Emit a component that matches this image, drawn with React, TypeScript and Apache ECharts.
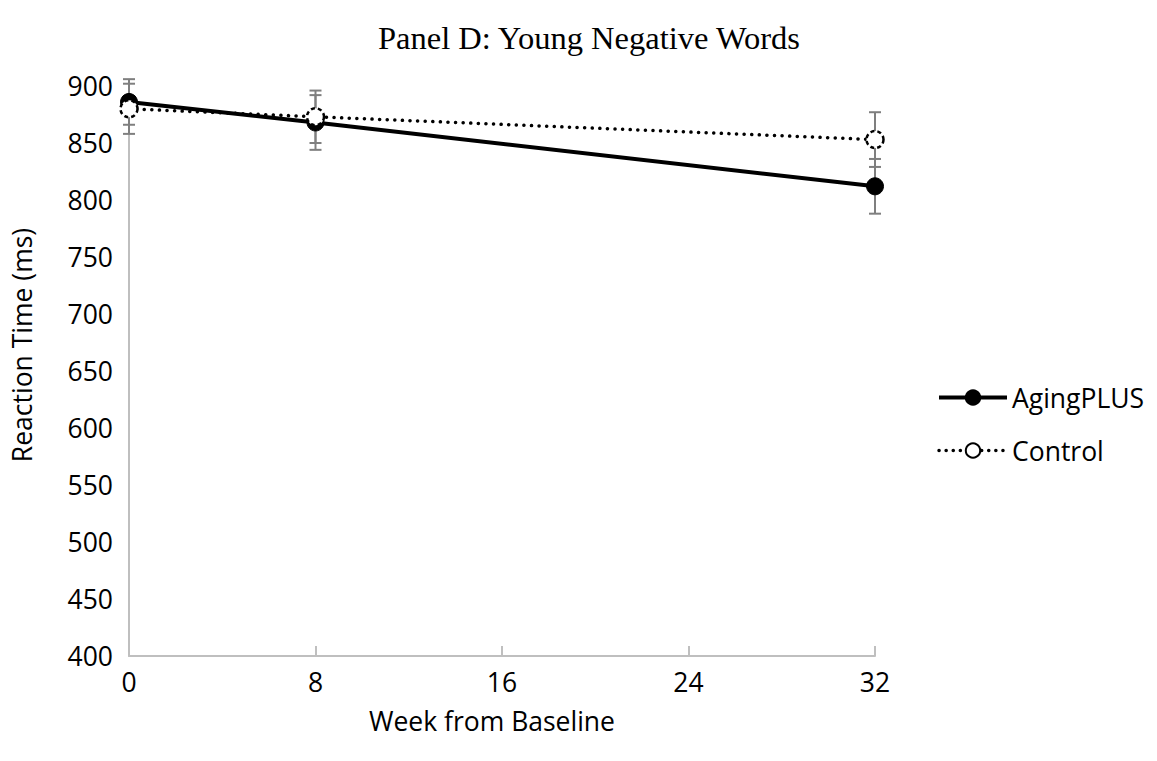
import React, { useEffect, useRef } from "react";
import * as echarts from "echarts";

const weeks = [0, 8, 32];
const agingPlus = [886, 868, 812];
const agingPlusErr = [20, 24, 24];
const control = [880, 873, 853];
const controlErr = [22, 23, 24];
const xTicks = [0, 8, 16, 24, 32];
const seriesNames = ["AgingPLUS", "Control"];

const FONT = "'Open Sans', 'Noto Sans', sans-serif";
const FS = 26.5;

export default function App() {
  const ref = useRef<HTMLDivElement>(null);
  useEffect(() => {
    if (!ref.current) return;
    const chart = echarts.init(ref.current, undefined, { renderer: "svg" });
    const errData: number[][] = [];
    weeks.forEach((w, i) => {
      errData.push([w, agingPlus[i] - agingPlusErr[i], agingPlus[i] + agingPlusErr[i]]);
      errData.push([w, control[i] - controlErr[i], control[i] + controlErr[i]]);
    });
    const errRender = (params: any, api: any) => {
      const x = api.value(0);
      const lo = api.coord([x, api.value(1)]);
      const hi = api.coord([x, api.value(2)]);
      const hw = 6;
      const style = { stroke: "#7f7f7f", lineWidth: 2 };
      return {
        type: "group",
        children: [
          { type: "line", shape: { x1: lo[0], y1: lo[1], x2: hi[0], y2: hi[1] }, style },
          { type: "line", shape: { x1: lo[0] - hw, y1: lo[1], x2: lo[0] + hw, y2: lo[1] }, style },
          { type: "line", shape: { x1: hi[0] - hw, y1: hi[1], x2: hi[0] + hw, y2: hi[1] }, style },
        ],
      };
    };
    chart.setOption({
      animation: false,
      backgroundColor: "#ffffff",
      title: {
        text: "Panel D: Young Negative Words",
        left: 584,
        top: 16,
        textAlign: "center",
        textStyle: {
          fontFamily: "'Liberation Serif', 'Times New Roman', serif",
          fontSize: 32.5,
          fontWeight: "normal",
          color: "#000",
        },
      },
      grid: { left: 129, right: 282, top: 86, bottom: 105 },
      legend: {
        data: [
          { name: seriesNames[0], lineStyle: { width: 4, type: "solid", color: "#000" } },
          { name: seriesNames[1], lineStyle: { width: 3.5, type: [0.1, 7], cap: "round", color: "#000" } },
        ],
        orient: "vertical",
        left: 932,
        top: 379,
        itemWidth: 68,
        itemHeight: 18,
        itemGap: 26,
        textStyle: { fontFamily: FONT, fontSize: FS, color: "#000" },
      },
      xAxis: {
        type: "value",
        min: 0,
        max: 32,
        interval: 8,
        axisLine: { lineStyle: { color: "#bfbfbf", width: 2 } },
        axisTick: { show: true, inside: true, length: 10, lineStyle: { color: "#bfbfbf", width: 2 } },
        axisLabel: {
          fontFamily: FONT,
          fontSize: FS,
          color: "#000",
          margin: 12,
          formatter: (v: number) => (xTicks.includes(v) ? String(v) : ""),
        },
        splitLine: { show: false },
      },
      yAxis: {
        type: "value",
        min: 400,
        max: 900,
        interval: 50,
        axisLine: { show: true, lineStyle: { color: "#bfbfbf", width: 2 } },
        axisTick: { show: false },
        axisLabel: { fontFamily: FONT, fontSize: FS, color: "#000", margin: 16 },
        splitLine: { show: false },
      },
      graphic: [
        {
          type: "text",
          x: 22,
          y: 345,
          rotation: Math.PI / 2,
          style: {
            text: "Reaction Time (ms)",
            fontFamily: FONT,
            fontSize: FS,
            fill: "#000",
            textAlign: "center",
            textVerticalAlign: "middle",
          },
        },
        {
          type: "text",
          x: 492,
          y: 721,
          style: {
            text: "Week from Baseline",
            fontFamily: FONT,
            fontSize: FS,
            fill: "#000",
            textAlign: "center",
            textVerticalAlign: "middle",
          },
        },
      ],
      series: [
        {
          type: "custom",
          name: "err",
          renderItem: errRender,
          data: errData,
          z: 1,
          silent: true,
        },
        {
          name: "AgingPLUS",
          type: "line",
          data: weeks.map((w, i) => [w, agingPlus[i]]),
          symbol: "circle",
          symbolSize: 17,
          lineStyle: { color: "#000", width: 4, type: "solid" },
          itemStyle: { color: "#000", borderColor: "#000", borderWidth: 1 },
          z: 3,
        },
        {
          name: "Control",
          type: "line",
          data: weeks.map((w, i) => [w, control[i]]),
          symbol: "circle",
          symbolSize: 17,
          lineStyle: { color: "#000", width: 3.5, type: [0.1, 7.5], cap: "round" },
          itemStyle: { color: "#fff", borderColor: "#000", borderWidth: 2.5, borderType: [4, 3] },
          z: 4,
        },
      ],
    });
    return () => chart.dispose();
  }, []);
  return (
    <div
      ref={ref}
      style={{ position: "fixed", left: 0, top: 0, width: 1157, height: 761, background: "#fff" }}
    />
  );
}
